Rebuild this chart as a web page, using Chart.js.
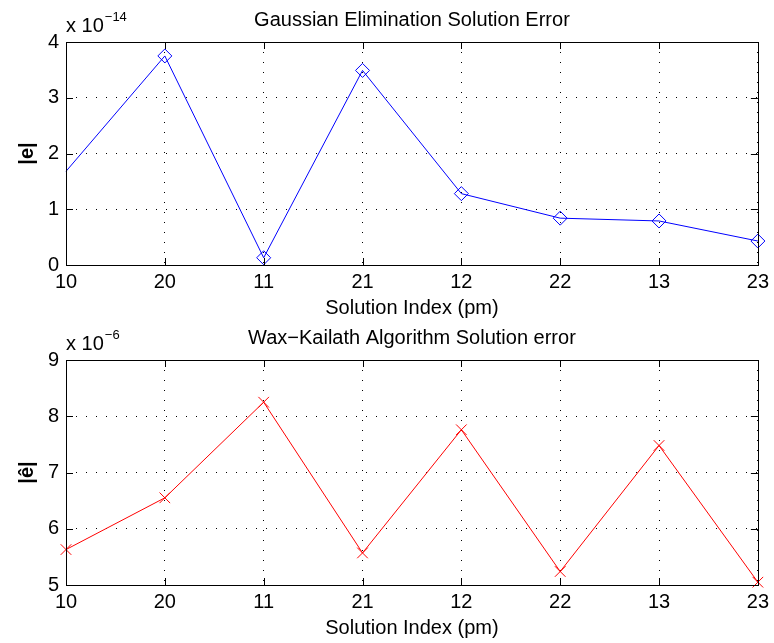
<!DOCTYPE html>
<html>
<head>
<meta charset="utf-8">
<script src="https://cdn.jsdelivr.net/npm/chart.js@4"></script>
<style>
  body { margin: 0; background: #fff; }
  canvas { display: block; position: absolute; left: 0; }
</style>
</head>
<body>
<canvas id="topChart" width="774" height="320" style="top:0"></canvas>
<canvas id="bottomChart" width="774" height="323" style="top:320px"></canvas>
<script>
// solution order on the x axis
var categories = ['10', '20', '11', '21', '12', '22', '13', '23'];
// |e| in units of 1e-14
var gaussErr = [1.68, 3.75, 0.13, 3.49, 1.28, 0.84, 0.79, 0.43];
// |e hat| in units of 1e-6
var waxErr = [5.63, 6.55, 8.25, 5.57, 7.76, 5.24, 7.48, 5.05];
var gaussTicks = [0, 1, 2, 3, 4];
var waxTicks = [5, 6, 7, 8, 9];

var FONT = 'Liberation Sans, Arial, Helvetica, sans-serif';

// matlab style box, inward ticks, titles and exponent label
var matlabAxes = {
    id: 'matlabAxes',
    afterDraw: function (chart, args, opts) {
        var c = chart.ctx, a = chart.chartArea;
        var xs = chart.scales.x, ys = chart.scales.y;
        c.save();
        c.strokeStyle = '#000';
        c.lineWidth = 1;
        c.setLineDash([]);
        c.strokeRect(Math.round(a.left) + 0.5, Math.round(a.top) + 0.5,
            Math.round(a.right - a.left), Math.round(a.bottom - a.top));
        c.beginPath();
        xs.ticks.forEach(function (t, i) {
            var px = Math.round(xs.getPixelForTick(i)) + 0.5;
            c.moveTo(px, a.bottom); c.lineTo(px, a.bottom - 7);
            c.moveTo(px, a.top); c.lineTo(px, a.top + 7);
        });
        ys.ticks.forEach(function (t, i) {
            var py = Math.round(ys.getPixelForTick(i)) + 0.5;
            c.moveTo(a.left, py); c.lineTo(a.left + 7, py);
            c.moveTo(a.right, py); c.lineTo(a.right - 7, py);
        });
        c.stroke();

        c.fillStyle = '#000';
        c.textAlign = 'center';
        c.textBaseline = 'alphabetic';
        c.font = '20px ' + FONT;
        c.fillText(opts.title, (a.left + a.right) / 2, a.top - 16);
        c.fillText('Solution Index (pm)', (a.left + a.right) / 2, opts.xLabelY);

        c.save();
        c.translate(27, (a.top + a.bottom) / 2);
        c.rotate(-Math.PI / 2);
        c.textBaseline = 'middle';
        c.font = 'bold 20px ' + FONT;
        c.fillText(opts.yLabel, 0, 0);
        c.restore();

        c.textAlign = 'left';
        c.font = '20px ' + FONT;
        c.fillText('x 10', a.left, a.top - 10);
        var w = c.measureText('x 10').width;
        c.font = '13px ' + FONT;
        c.fillText(opts.exponent, a.left + w + 1, a.top - 21);
        c.restore();
    }
};

function makeChart(id, data, ticks, color, style, radius, yLabel, title, exponent, topPad, xHeight, xLabelY) {
    return new Chart(document.getElementById(id), {
        type: 'line',
        data: {
            labels: categories,
            datasets: [{
                data: data,
                borderColor: color,
                borderWidth: 1,
                pointStyle: style,
                pointRadius: radius,
                pointHoverRadius: radius,
                pointBorderColor: color,
                pointBackgroundColor: 'rgba(0,0,0,0)',
                pointBorderWidth: 1,
                tension: 0,
                clip: false
            }]
        },
        options: {
            responsive: false,
            animation: false,
            devicePixelRatio: 1,
            layout: { padding: { top: topPad, right: 13, left: 0, bottom: 0 } },
            plugins: {
                legend: { display: false },
                tooltip: { enabled: false },
                matlabAxes: { title: title, exponent: exponent, yLabel: yLabel, xLabelY: xLabelY }
            },
            scales: {
                x: {
                    type: 'category',
                    offset: false,
                    grid: { color: '#000', drawTicks: false, lineWidth: 1 },
                    border: { display: false, dash: [1, 9] },
                    ticks: { color: '#000', font: { family: FONT, size: 20 }, padding: 5, maxRotation: 0, autoSkip: false },
                    afterFit: function (s) { s.height = xHeight; }
                },
                y: {
                    min: ticks[0],
                    max: ticks[ticks.length - 1],
                    afterBuildTicks: function (s) { s.ticks = ticks.map(function (v) { return { value: v }; }); },
                    grid: { color: '#000', drawTicks: false, lineWidth: 1 },
                    border: { display: false, dash: [1, 9] },
                    ticks: { color: '#000', font: { family: FONT, size: 20 }, padding: 7 },
                    afterFit: function (s) { s.width = 66; }
                }
            }
        },
        plugins: [matlabAxes]
    });
}

makeChart('topChart', gaussErr, gaussTicks, '#0000ff', 'rectRot',
    [0, 7, 7, 7, 7, 7, 7, 7], '|e|', 'Gaussian Elimination Solution Error', '\u221214', 42, 55, 314);
makeChart('bottomChart', waxErr, waxTicks, '#ff0000', 'crossRot',
    7.5, '|\u00ea|', 'Wax\u2212Kailath Algorithm Solution error', '\u22126', 40, 58, 314);
</script>
</body>
</html>
